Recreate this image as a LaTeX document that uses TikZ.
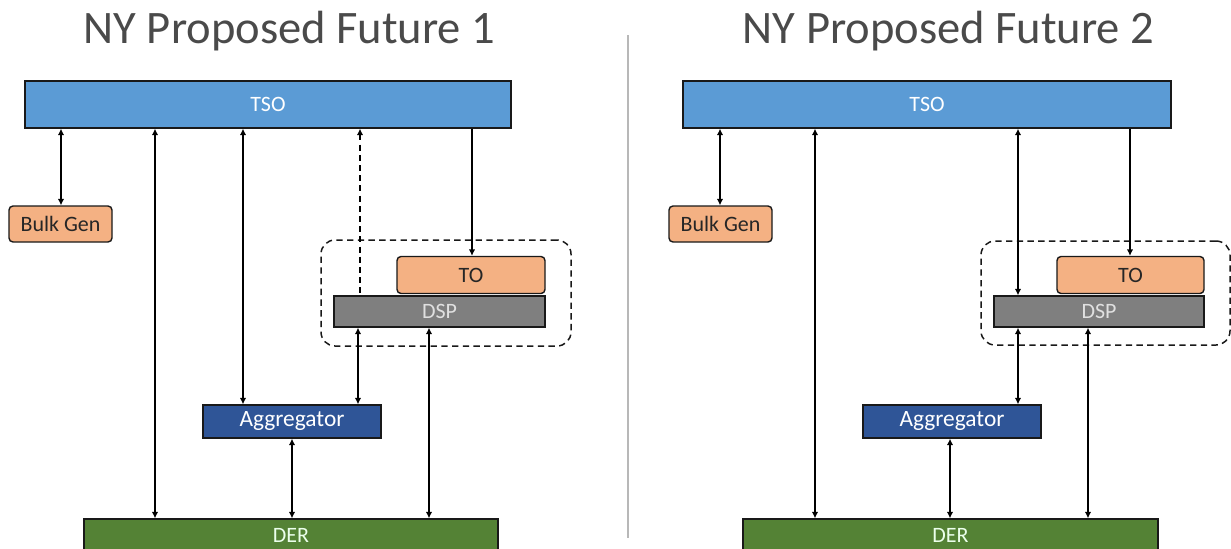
\documentclass[tikz,border=0pt]{standalone}
\usepackage{fontspec}
\setmainfont{Carlito}
\usetikzlibrary{arrows.meta}

\newdimen\pxu \pxu=0.02cm
\definecolor{tsoblue}{HTML}{5B9BD5}
\definecolor{genorange}{HTML}{F4B183}
\definecolor{dspgray}{HTML}{7F7F7F}
\definecolor{aggblue}{HTML}{2F5597}
\definecolor{dergreen}{HTML}{548235}
\definecolor{titlegray}{HTML}{4A4A4A}

\begin{document}
\begin{tikzpicture}[x=\pxu, y=-\pxu,
    >={Latex[length=3.6pt,width=3.6pt]},
    box/.style={draw=black!90, line width=0.8pt, inner sep=0pt, font=\fontsize{12.5}{14}\selectfont},
    gen/.style={box, fill=genorange, text=black!85, rounded corners=4\pxu},
    group/.style={draw=black!90, line width=0.85pt, dash pattern=on 3.6pt off 2.5pt, rounded corners=14\pxu, inner sep=0pt},
    title/.style={anchor=base, text=titlegray, font=\fontsize{26.5}{30}\selectfont},
    link/.style={line width=0.65pt}]
    \useasboundingbox (0,0) rectangle (1231,548);

    % left panel
    \begin{scope}[name prefix=L-]
        \node[title] (title) at (289.5,43) {NY Proposed Future 1};
        \node[box, fill=tsoblue, text=white, minimum width=486\pxu, minimum height=47\pxu] (tso) at (268,104.5) {TSO};
        \node[gen, minimum width=103\pxu, minimum height=36\pxu] (bulk) at (60.5,224) {Bulk Gen};
        \node[group, minimum width=250\pxu, minimum height=106\pxu] (grp) at (446,293) {};
        \node[gen, minimum width=148\pxu, minimum height=37\pxu] (to) at (471,275) {TO};
        \node[box, fill=dspgray, text=black!12, minimum width=211\pxu, minimum height=31\pxu] (dsp) at (439.5,311.5) {DSP};
        \node[box, fill=aggblue, text=white, minimum width=178\pxu, minimum height=33\pxu, font=\fontsize{13.3}{15}\selectfont] (agg) at (292,421.5) {Aggregator};
        \node[box, fill=dergreen, text=green!8, minimum width=414\pxu, minimum height=33\pxu] (der) at (291,535.5) {DER};

        \draw[link,<->] (61,0 |- tso.south) -- (61,0 |- bulk.north);
        \draw[link,<->] (155,0 |- tso.south) -- (155,0 |- der.north);
        \draw[link,<->] (243,0 |- tso.south) -- (243,0 |- agg.north);
        \draw[link,<-,dash pattern=on 3.4pt off 2.4pt] (360,0 |- tso.south) -- (360,0 |- dsp.north);
        \draw[link,->] (472,0 |- tso.south) -- (472,0 |- to.north);
        \draw[link,<->] (358,0 |- dsp.south) -- (358,0 |- agg.north);
        \draw[link,<->] (429,0 |- dsp.south) -- (429,0 |- der.north);
        \draw[link,<->] (292,0 |- agg.south) -- (292,0 |- der.north);
    \end{scope}

    % divider
    \draw[black!28, line width=0.8pt] (628,35) -- (628,538);

    % right panel
    \begin{scope}[name prefix=R-, shift={(660,0)}]
        \node[title] (title) at (288.5,43) {NY Proposed Future 2};
        \node[box, fill=tsoblue, text=white, minimum width=488\pxu, minimum height=47\pxu] (tso) at (267,104.5) {TSO};
        \node[gen, minimum width=103\pxu, minimum height=36\pxu] (bulk) at (60.5,224) {Bulk Gen};
        \node[group, minimum width=249\pxu, minimum height=104\pxu] (grp) at (445.5,293) {};
        \node[gen, minimum width=147\pxu, minimum height=37\pxu] (to) at (470.5,275) {TO};
        \node[box, fill=dspgray, text=black!12, minimum width=210\pxu, minimum height=31\pxu] (dsp) at (439,311.5) {DSP};
        \node[box, fill=aggblue, text=white, minimum width=178\pxu, minimum height=33\pxu, font=\fontsize{13.3}{15}\selectfont] (agg) at (292,421.5) {Aggregator};
        \node[box, fill=dergreen, text=green!8, minimum width=415\pxu, minimum height=33\pxu] (der) at (290.5,535.5) {DER};

        \draw[link,<->] (60,0 |- tso.south) -- (60,0 |- bulk.north);
        \draw[link,<->] (155,0 |- tso.south) -- (155,0 |- der.north);
        \draw[link,<->] (358,0 |- tso.south) -- (358,0 |- dsp.north);
        \draw[link,->] (470,0 |- tso.south) -- (470,0 |- to.north);
        \draw[link,<->] (358,0 |- dsp.south) -- (358,0 |- agg.north);
        \draw[link,<->] (428,0 |- dsp.south) -- (428,0 |- der.north);
        \draw[link,<->] (290,0 |- agg.south) -- (290,0 |- der.north);
    \end{scope}
\end{tikzpicture}
\end{document}
